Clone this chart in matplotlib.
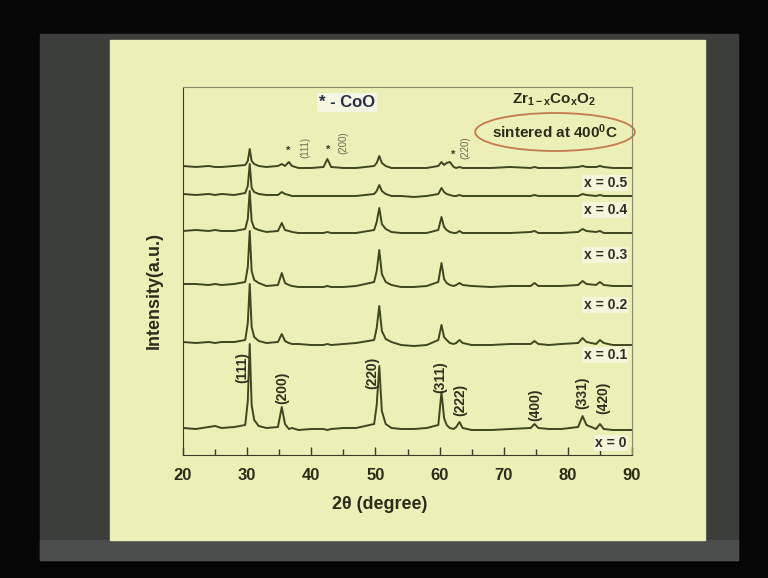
import matplotlib.pyplot as plt
from matplotlib.patches import Rectangle, Ellipse

plt.rcParams['font.family'] = ['Liberation Sans', 'DejaVu Sans']
plt.rcParams['font.weight'] = 'bold'
plt.rcParams['axes.labelweight'] = 'bold'
plt.rcParams['mathtext.fontset'] = 'custom'
plt.rcParams['mathtext.rm'] = 'Liberation Sans:bold'
plt.rcParams['mathtext.it'] = 'Liberation Sans:bold'
plt.rcParams['mathtext.bf'] = 'Liberation Sans:bold'

# 2theta sampling points (deg)
two_theta = [20, 22, 24, 25, 26, 28,
             29.7, 30.1, 30.4, 30.7, 31.1, 31.8,
             33, 34.8, 35.4, 35.9, 36.5, 37.0,
             38, 40, 41.9, 42.5, 43.1, 45,
             47, 49.8, 50.2, 50.6, 51.0, 51.6,
             52.5, 54, 56, 58, 59.8, 60.3,
             60.7, 61.1, 61.6, 62.2, 62.6, 63.1,
             63.6, 65, 68, 71, 74.2, 74.8,
             75.4, 77, 79, 81.6, 82.3, 82.9,
             84.4, 85.0, 85.6, 87, 90]

# intensity above each trace's own baseline (a.u.)
i_x00 = [1, 0, 2, 3, 1, 2,
         4, 28, 85, 24, 9, 3,
         1, 2, 22, 5, 0, 1,
         -1, 0, 0, -1, 0, 1,
         1, 5, 24, 63, 18, 5,
         1, 0, 0, 1, 4, 37,
         11, 4, 1, 0, 2, 7,
         1, -1, -1, 0, 1, 5,
         1, 0, 0, 2, 13, 4,
         0, 5, 0, -1, -1]
i_x01 = [1, 0, 1, 0, 1, 1,
         3, 20, 59, 16, 6, 2,
         0, 1, 9, 2, 0, -1,
         -1, -2, -2, -1, -2, -1,
         0, 3, 15, 37, 12, 4,
         1, -2, -3, -2, 3, 18,
         6, 3, 0, -1, 0, 3,
         0, -2, -2, -1, -1, 2,
         -1, -2, -1, 0, 5, 1,
         -1, 3, 0, -2, -2]
i_x02 = [1, 1, 0, 1, 0, 1,
         3, 18, 54, 14, 5, 2,
         -1, 0, 12, 2, 0, -1,
         -2, -2, -2, -1, -2, -2,
         -1, 3, 14, 35, 11, 3,
         0, -2, -2, -1, 3, 22,
         6, 2, 0, -1, 0, 2,
         0, -1, -2, -1, -1, 2,
         -1, -1, -1, 0, 4, 1,
         0, 3, 0, -1, -1]
i_x03 = [1, 2, 1, 2, 1, 1,
         3, 13, 41, 11, 4, 2,
         0, 1, 9, 2, 1, 0,
         -1, -1, -1, 0, -1, -1,
         -1, 2, 10, 24, 8, 3,
         0, -1, -1, -1, 2, 15,
         5, 2, 0, -1, -1, 1,
         -1, -1, -1, -1, 0, 1,
         -1, -1, -1, 0, 3, 1,
         0, 1, -1, -1, -1]
i_x04 = [1, 0, 1, 0, 1, 0,
         2, 9, 31, 7, 3, 1,
         0, 0, 3, 1, 0, -1,
         -1, -1, -1, -1, -1, -1,
         -1, 1, 4, 10, 4, 1,
         -1, -1, -2, -1, 1, 7,
         3, 1, 0, -1, -1, 0,
         -1, -1, -1, -1, -1, 0,
         -1, -1, -1, -1, 1, 0,
         -1, 0, -1, -1, -1]
i_x05 = [1, 0, 1, 0, 0, 1,
         2, 6, 18, 6, 3, 1,
         0, 1, 3, 1, 5, 1,
         -1, -1, 0, 8, 0, -1,
         -1, 1, 4, 11, 4, 1,
         -1, -1, -1, -1, 1, 5,
         2, 4, 5, 0, -1, 0,
         -1, -1, -1, 0, -1, 0,
         -1, -1, -1, 0, 1, 0,
         0, 1, 0, -1, -1]

compositions = ['x = 0', 'x = 0.1', 'x = 0.2', 'x = 0.3', 'x = 0.4', 'x = 0.5']
offsets = [26, 112, 170, 223, 260, 288]
label_y = [12, 100, 150, 200, 245, 272]

hkl_labels = ['(111)', '(200)', '(220)', '(311)', '(222)', '(400)', '(331)', '(420)']
hkl_x = [29.2, 35.5, 49.5, 60.1, 63.3, 74.9, 82.2, 85.5]
hkl_y = [87, 67, 82, 78, 55, 50, 62, 57]

coo_labels = ['(111)', '(200)', '(220)']
coo_star_x = [36.4, 42.7, 62.1]
coo_star_y = [304, 305, 300]
coo_label_x = [39.0, 45.0, 64.0]
coo_label_y = [308, 312, 307]

traces = [i_x00, i_x01, i_x02, i_x03, i_x04, i_x05]

fig = plt.figure(figsize=(7.68, 5.78), dpi=100, facecolor='#060606')

def px_rect(x0, y0, x1, y1, color):
    fig.add_artist(Rectangle((x0 / 768, 1 - y1 / 578), (x1 - x0) / 768, (y1 - y0) / 578,
                             transform=fig.transFigure, color=color, zorder=-5))

# screen and slide behind the chart
px_rect(40, 34, 738, 560, '#3c3e3c')
px_rect(40, 540, 738, 560, '#4c4e4d')
px_rect(110, 40, 705, 540, '#edf0b6')

ax = fig.add_axes([0.2383, 0.2128, 0.5846, 0.6367])
ax.set_facecolor('none')

line_col = '#3e4720'
for ys, off in zip(traces, offsets):
    ax.plot(two_theta, [v + off for v in ys], color=line_col, lw=1.4)

ax.set_xlim(20, 90)
ax.set_ylim(0, 368)
ax.set_yticks([])
ax.set_xticks(range(20, 91, 10))
ax.set_xticks(range(25, 90, 10), minor=True)
ax.tick_params(axis='x', which='major', direction='in', length=6, width=1,
               color='#3a3a28', labelsize=12, labelcolor='#2c2c1c', pad=9)
ax.tick_params(axis='x', which='minor', direction='in', length=4, width=1, color='#3a3a28')
for s in ['left', 'bottom']:
    ax.spines[s].set_color('#3a3a28')
for s in ['top', 'right']:
    ax.spines[s].set_color('#8a8a6c')
    ax.spines[s].set_linewidth(0.8)

ax.set_xlabel('2θ (degree)', fontsize=13, fontweight='bold', color='#2c2c1c')
ax.xaxis.set_label_coords(0.439, -0.112)
ax.set_ylabel('Intensity(a.u.)', fontsize=13, fontweight='bold', color='#2c2c1c')
ax.yaxis.set_label_coords(-0.045, 0.448)

for lab, y in zip(compositions, label_y):
    ax.text(89.2, y, lab, ha='right', va='center', fontsize=10, color='#2c2c1c',
            bbox=dict(facecolor='#f4f6dc', edgecolor='none', pad=1))

for lab, x, y in zip(hkl_labels, hkl_x, hkl_y):
    ax.text(x, y, lab, rotation=90, ha='center', va='center', fontsize=10, color='#2e2e1e')

for x, y in zip(coo_star_x, coo_star_y):
    ax.text(x, y, '*', ha='center', va='center', fontsize=8, color='#3a3a2a')
for lab, x, y in zip(coo_labels, coo_label_x, coo_label_y):
    ax.text(x, y, lab, rotation=90, ha='center', va='center', fontsize=7,
            fontweight='normal', color='#6c6c5a')

ax.text(45.6, 352, '* - CoO', ha='center', va='center', fontsize=12, color='#2a2d48',
        bbox=dict(facecolor='#f5f6e4', edgecolor='none', pad=1.5))
ax.text(77.8, 355, r'$\mathrm{Zr}_{\mathrm{1-x}}\mathrm{Co}_{\mathrm{x}}\mathrm{O}_{\mathrm{2}}$',
        ha='center', va='center', fontsize=11, color='#2c2c1c')
ax.text(78.0, 323, r'sintered at 400$^{0}$C', ha='center', va='center', fontsize=11,
        color='#2c2c1c')
ax.add_patch(Ellipse((78.0, 323), 24.9, 38, fill=False, edgecolor='#c47a4c', lw=1.3,
                     clip_on=False))

fig.savefig('out.png', dpi=100, facecolor=fig.get_facecolor())
